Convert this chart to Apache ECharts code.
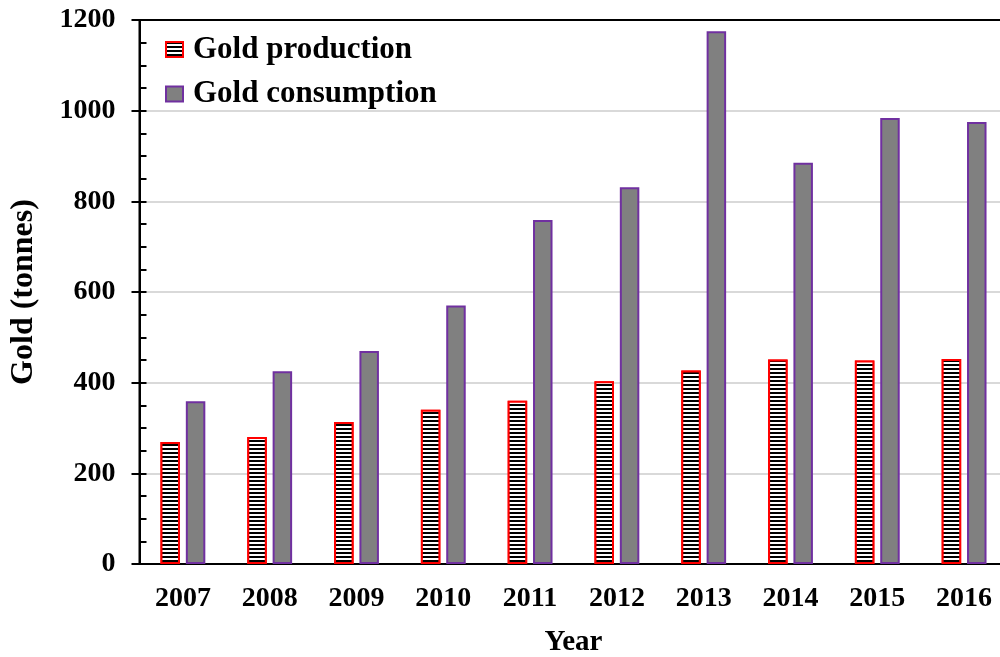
<!DOCTYPE html>
<html>
<head>
<meta charset="utf-8">
<script src="https://cdn.jsdelivr.net/npm/echarts@6/dist/echarts.min.js"></script>
<style>
html,body{margin:0;padding:0;background:#fff;}
#chart{width:1000px;height:657px;}
</style>
</head>
<body>
<div id="chart"></div>
<script>
const years = ['2007','2008','2009','2010','2011','2012','2013','2014','2015','2016'];
const goldProduction = [269, 280, 313, 340, 360, 403, 427, 451, 449, 452];
const goldConsumption = [359, 425, 470, 570, 759, 831, 1175, 885, 984, 975];
const yTicks = [0, 200, 400, 600, 800, 1000, 1200];

const FONT = "'Liberation Serif', 'Times New Roman', serif";
const chart = echarts.init(document.getElementById('chart'), null, {renderer: 'canvas'});

chart.setOption({
  backgroundColor: '#fff',
  animation: false,
  grid: {left: 139.5, right: -7.5, top: 20, bottom: 93, containLabel: false, outerBoundsMode: 'none',
         show: true, borderColor: '#000', borderWidth: 2, backgroundColor: 'transparent'},
  legend: {
    left: 160, top: 29, orient: 'vertical', itemWidth: 17, itemHeight: 15, itemGap: 13.5,
    icon: 'rect',
    textStyle: {fontFamily: FONT, fontWeight: 'bold', fontSize: 31, color: '#000', padding: [0,0,0,5]},
    data: ['Gold production', 'Gold consumption']
  },
  xAxis: {
    type: 'category', data: years,
    axisLine: {lineStyle: {color: '#000', width: 2}},
    axisTick: {show: false},
    axisLabel: {fontFamily: FONT, fontWeight: 'bold', fontSize: 28, color: '#000', margin: 21},
    name: 'Year', nameLocation: 'middle', nameGap: 64,
    nameTextStyle: {fontFamily: FONT, fontWeight: 'bold', fontSize: 29, color: '#000'}
  },
  yAxis: [{
    type: 'value', min: yTicks[0], max: yTicks[yTicks.length - 1], interval: 200, position: 'left',
    axisLine: {show: true, lineStyle: {color: '#000', width: 2}},
    axisTick: {show: true, inside: false, length: 8, lineStyle: {color: '#000', width: 2}},
    axisLabel: {fontFamily: FONT, fontWeight: 'bold', fontSize: 28, color: '#000', margin: 24,
                formatter: function (v) { return String(v); }},
    splitLine: {show: true, showMinLine: false, showMaxLine: false, lineStyle: {color: '#d9d9d9', width: 2}},
    name: 'Gold (tonnes)', nameLocation: 'middle', nameGap: 100, nameRotate: 90,
    nameTextStyle: {fontFamily: FONT, fontWeight: 'bold', fontSize: 32, color: '#000'}
  }, {
    type: 'value', min: yTicks[0], max: yTicks[yTicks.length - 1], interval: 200, position: 'left',
    axisLine: {show: false},
    axisTick: {show: true, inside: true, length: 7, lineStyle: {color: '#000', width: 2}},
    minorTick: {show: true, splitNumber: 4, length: 7, lineStyle: {color: '#000', width: 2}},
    axisLabel: {show: false},
    splitLine: {show: false}
  }],
  series: [{
    name: 'Gold production', type: 'bar', data: goldProduction,
    barWidth: 19.5, barGap: '30%',
    itemStyle: {
      color: '#fff', borderColor: '#ff0000', borderWidth: 2,
      decal: {symbol: 'rect', symbolSize: 1, dashArrayX: [1, 0], dashArrayY: [2, 2], rotation: 0, color: '#000', backgroundColor: '#fff'}
    }
  }, {
    name: 'Gold consumption', type: 'bar', data: goldConsumption,
    barWidth: 19.5,
    itemStyle: {color: '#808080', borderColor: '#7030a0', borderWidth: 2}
  }]
});
</script>
</body>
</html>
